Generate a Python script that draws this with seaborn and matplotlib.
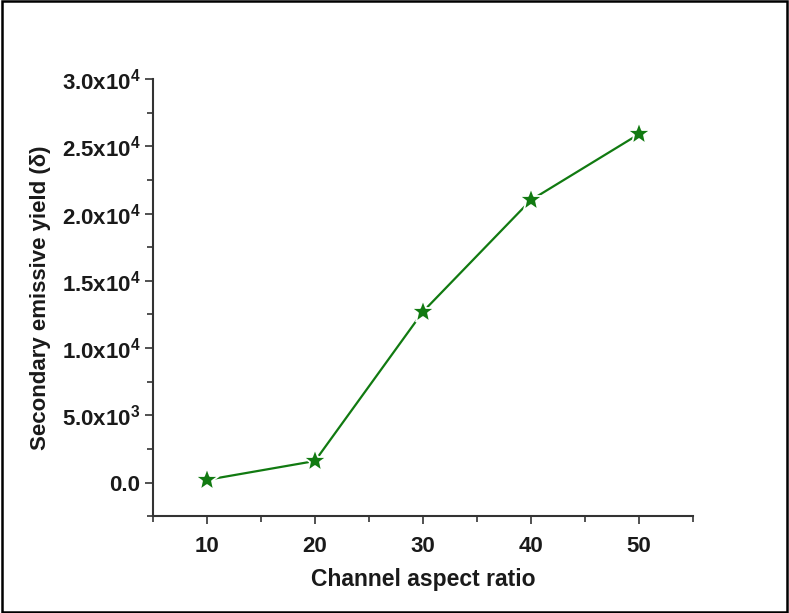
import matplotlib
matplotlib.use("Agg")
import matplotlib.pyplot as plt
from matplotlib.patches import Rectangle
from matplotlib.ticker import FixedLocator
import seaborn as sns
import pandas as pd

# Secondary emission yield versus channel aspect ratio
aspect_ratio = [10, 20, 30, 40, 50]
yield_delta = [200, 1600, 12700, 21000, 25900]

x_ticks = [10, 20, 30, 40, 50]
y_ticks = [0, 5000, 10000, 15000, 20000, 25000, 30000]
y_tick_labels = ["0.0", "5.0x10$^{3}$", "1.0x10$^{4}$", "1.5x10$^{4}$",
                 "2.0x10$^{4}$", "2.5x10$^{4}$", "3.0x10$^{4}$"]

sns.set_style("ticks")
plt.rcParams["font.family"] = ["Liberation Sans", "DejaVu Sans"]
plt.rcParams["mathtext.fontset"] = "custom"
plt.rcParams["mathtext.rm"] = "Liberation Sans:bold"
plt.rcParams["mathtext.it"] = "Liberation Sans:bold"
plt.rcParams["mathtext.bf"] = "Liberation Sans:bold"

df = pd.DataFrame({"ratio": aspect_ratio, "delta": yield_delta})

fig = plt.figure(figsize=(7.89, 6.13), dpi=100)
ax = fig.add_axes([0.194, 0.158, 0.684, 0.713])

green = "#117a11"
sns.lineplot(data=df, x="ratio", y="delta", ax=ax, color=green,
             linewidth=1.6, marker="*", markersize=18,
             markerfacecolor=green, markeredgecolor="white",
             markeredgewidth=1.3, zorder=3)

ax.set_xlim(5, 55)
ax.set_ylim(-2500, 30000)
ax.xaxis.set_major_locator(FixedLocator(x_ticks))
ax.xaxis.set_minor_locator(FixedLocator([5, 15, 25, 35, 45, 55]))
ax.yaxis.set_major_locator(FixedLocator(y_ticks))
ax.yaxis.set_minor_locator(FixedLocator([-2500, 2500, 7500, 12500, 17500, 22500, 27500]))
ax.set_xticklabels([str(v) for v in x_ticks])
ax.set_yticklabels(y_tick_labels)

for lab in ax.get_xticklabels() + ax.get_yticklabels():
    lab.set_fontweight("bold")
    lab.set_fontsize(16)
    lab.set_color("#1a1a1a")

ax.tick_params(which="major", direction="out", length=6, width=1.2,
               color="#333333")
ax.tick_params(axis="y", which="major", pad=3)
ax.tick_params(axis="x", which="major", pad=8)
ax.tick_params(which="minor", direction="out", length=4, width=1.2,
               color="#333333")

ax.set_xlabel("Channel aspect ratio", fontsize=16.5, fontweight="bold",
              labelpad=8, color="#1a1a1a")
ax.set_ylabel("Secondary emissive yield (\u03b4)", fontsize=16,
              fontweight="bold", labelpad=8, color="#1a1a1a")

for side in ("top", "right"):
    ax.spines[side].set_visible(False)
for side in ("left", "bottom"):
    ax.spines[side].set_linewidth(1.5)
    ax.spines[side].set_color("#333333")

# Outer frame around the whole figure
fig.add_artist(Rectangle((0.002, 0.002), 0.996, 0.996, transform=fig.transFigure,
                         fill=False, edgecolor="black", linewidth=1.8))

fig.savefig("out.png", dpi=100, facecolor="white")
